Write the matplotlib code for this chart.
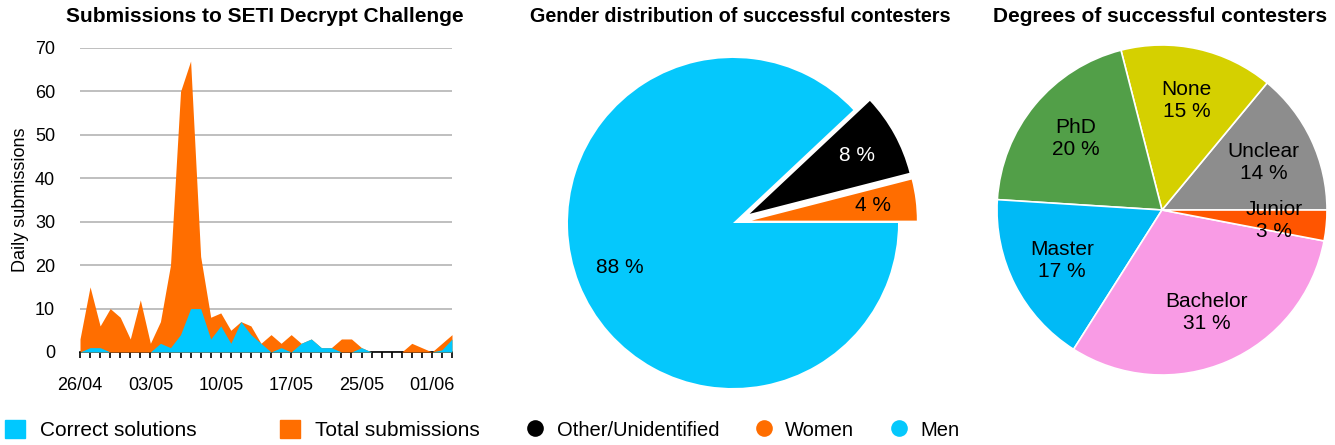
import numpy as np
import matplotlib
matplotlib.use("Agg")
import matplotlib.pyplot as plt
from matplotlib.patches import Patch
from matplotlib.lines import Line2D

plt.rcParams['font.family'] = ['Liberation Sans', 'DejaVu Sans']

# daily submissions (one point per day on the axis)
total_subs = [3, 15, 6, 10, 8, 3, 12, 2, 7, 20, 60, 67, 22, 8, 9, 5, 7, 6, 2,
              4, 2, 4, 2, 3, 1, 1, 3, 3, 1, 0, 0, 0, 0, 2, 1, 0, 2, 4]
correct_subs = [0, 1, 1, 0, 0, 0, 0, 0, 2, 1, 4, 10, 10, 3, 6, 2, 7, 4, 2,
                0, 1, 0, 2, 3, 1, 1, 0, 0, 1, 0, 0, 0, 0, 0, 0, 0, 0.5, 3]
date_labels = ['26/04', '03/05', '10/05', '17/05', '25/05', '01/06']

# gender pie
gender_names = ['Women', 'Other/Unidentified', 'Men']
gender_pct = [4, 8, 88]
gender_colors = ['#ff6d00', '#000000', '#05c8fc']

# degree pie
degree_names = ['Unclear', 'None', 'PhD', 'Master', 'Bachelor', 'Junior']
degree_pct = [14, 15, 20, 17, 31, 3]
degree_colors = ['#8d8d8d', '#d5d000', '#529f48', '#00baf6', '#f99be5', '#ff5500']

orange = '#ff6e00'
blue = '#00c8ff'

W, H = 1335, 445
fig = plt.figure(figsize=(W / 100, H / 100), dpi=100)

# ---- area chart
ax = fig.add_axes([80 / W, (H - 352) / H, 372 / W, 304 / H])
x = np.arange(len(total_subs))
ax.fill_between(x, 0, total_subs, color=orange, lw=0, zorder=3)
ax.fill_between(x, 0, correct_subs, color=blue, lw=0, zorder=4)
ax.set_xlim(0, len(total_subs) - 1)
ax.set_ylim(0, 70)
ax.set_yticks(range(0, 71, 10))
ax.yaxis.grid(True, color='#b4b4b4', lw=1.2, zorder=0)
ax.set_axisbelow(True)
ax.set_xticks(np.arange(0, 7 * len(date_labels), 7))
ax.set_xticklabels(date_labels)
ax.set_xticks(x, minor=True)
for s in ['top', 'right', 'left']:
    ax.spines[s].set_visible(False)
ax.spines['bottom'].set_color('black')
ax.spines['bottom'].set_linewidth(1.2)
ax.tick_params(axis='x', which='both', length=4, width=1.2, color='black',
               labelsize=13, pad=14)
ax.tick_params(axis='y', length=0, labelsize=13, pad=18)
ax.set_ylabel('Daily submissions', fontsize=13, labelpad=4)

fig.text(265 / W, 1 - 17 / H, 'Submissions to SETI Decrypt Challenge',
         ha='center', va='center', fontsize=15, fontweight='bold')

# ---- gender pie
r = 165
side = 2 * 1.25 * r
cx, cy = 733, 223
ax2 = fig.add_axes([(cx - side / 2) / W, (H - cy - side / 2) / H, side / W, side / H])
wedges, texts, autotexts = ax2.pie(
    gender_pct, colors=gender_colors, explode=[0.115, 0.115, 0],
    startangle=0, counterclock=True,
    autopct=lambda p: f"{p:.0f} %", pctdistance=0.74,
    textprops={'fontsize': 15})
autotexts[1].set_color('white')
ax2.set_xlim(-1.25, 1.25)
ax2.set_ylim(-1.25, 1.25)
fig.text(740 / W, 1 - 17 / H, 'Gender distribution of successful contesters',
         ha='center', va='center', fontsize=14.2, fontweight='bold')

# ---- degree pie
cx, cy = 1162, 210
ax3 = fig.add_axes([(cx - side / 2) / W, (H - cy - side / 2) / H, side / W, side / H])
labels = [f"{n}\n{v} %" for n, v in zip(degree_names, degree_pct)]
wedges3, texts3 = ax3.pie(
    degree_pct, colors=degree_colors, labels=labels, labeldistance=0.68,
    startangle=0, counterclock=True,
    wedgeprops={'edgecolor': 'white', 'linewidth': 1.2},
    textprops={'fontsize': 15})
for t in texts3:
    t.set_ha('center')
    t.set_va('center')
ax3.set_xlim(-1.25, 1.25)
ax3.set_ylim(-1.25, 1.25)
fig.text(1160 / W, 1 - 17 / H, 'Degrees of successful contesters',
         ha='center', va='center', fontsize=15, fontweight='bold')

# ---- legends
h1 = [Patch(color=blue, label='Correct solutions'),
      Patch(color=orange, label='Total submissions')]
fig.legend(handles=h1, loc='center left', bbox_to_anchor=(5 / W, 15 / H),
           ncol=2, frameon=False, fontsize=15, handlelength=0.96,
           handleheight=0.96, handletextpad=0.72, columnspacing=4.0,
           borderpad=0, borderaxespad=0)

h2 = [Line2D([], [], ls='none', marker='o', markersize=12, color=c,
             markeredgewidth=0, label=n)
      for n, c in zip(['Other/Unidentified', 'Women', 'Men'],
                      ['#000000', '#ff6d00', '#05c8fc'])]
fig.legend(handles=h2, loc='center left', bbox_to_anchor=(525 / W, 15 / H),
           ncol=3, frameon=False, fontsize=14.5, handlelength=1.0,
           handletextpad=0.58, columnspacing=1.7,
           borderpad=0, borderaxespad=0)

fig.savefig('out.png', dpi=100)
